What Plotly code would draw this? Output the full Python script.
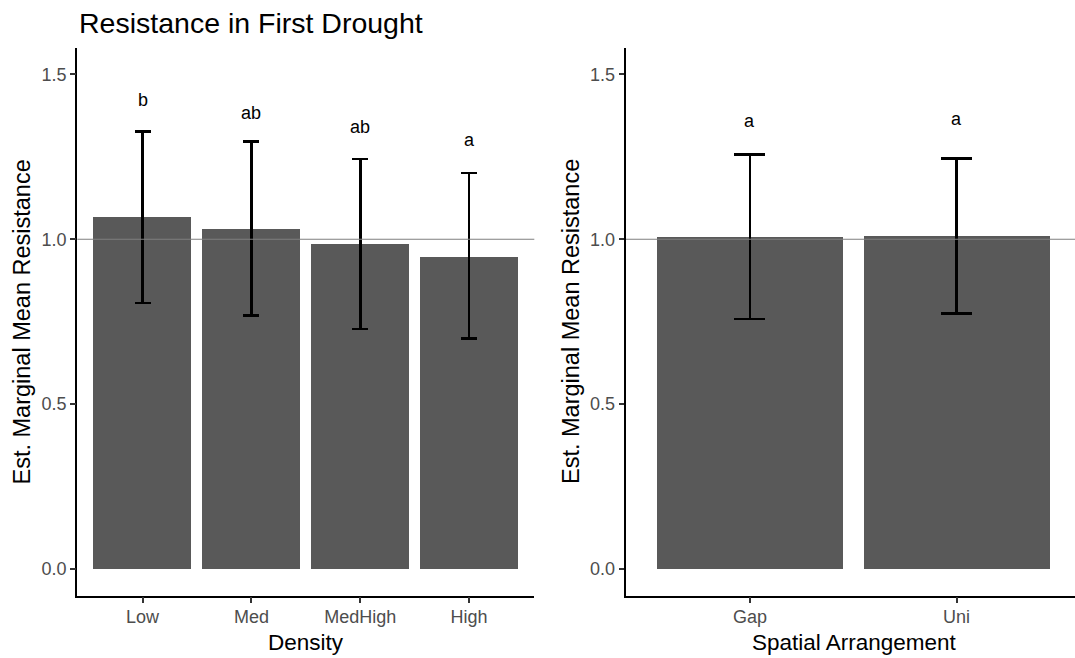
import plotly.graph_objects as go

# ---- data ----
density_levels = ["Low", "Med", "MedHigh", "High"]
density_emmean = [1.067, 1.029, 0.985, 0.946]
density_lower = [0.807, 0.769, 0.728, 0.699]
density_upper = [1.326, 1.297, 1.243, 1.201]
density_letters = ["b", "ab", "ab", "a"]
density_letter_y = [1.422, 1.384, 1.341, 1.301]

spatial_levels = ["Gap", "Uni"]
spatial_emmean = [1.005, 1.010]
spatial_lower = [0.758, 0.774]
spatial_upper = [1.258, 1.244]
spatial_letters = ["a", "a"]
spatial_letter_y = [1.359, 1.364]

y_ticks = [0.0, 0.5, 1.0, 1.5]
y_tick_text = ["0.0", "0.5", "1.0", "1.5"]

W, H = 1075, 658
FONT = "Liberation Sans, Arial, sans-serif"
BAR_COLOR = "#595959"

def px_x(px):
    return px / W

def px_y(px):
    return 1 - px / H

fig = go.Figure()

def add_panel(levels, mean, lower, upper, xaxis, yaxis, cap):
    fig.add_trace(go.Bar(
        x=levels, y=mean, width=0.9,
        marker=dict(color=BAR_COLOR, line=dict(width=0)),
        error_y=dict(type="data", symmetric=False,
                     array=[u - m for u, m in zip(upper, mean)],
                     arrayminus=[m - l for m, l in zip(mean, lower)],
                     color="black", thickness=2.7, width=cap),
        xaxis=xaxis, yaxis=yaxis, showlegend=False, hoverinfo="skip",
    ))

add_panel(density_levels, density_emmean, density_lower, density_upper, "x", "y", 8)
add_panel(spatial_levels, spatial_emmean, spatial_lower, spatial_upper, "x2", "y2", 15.5)

ydom = [px_y(595.7), px_y(48.3)]
yrange = [-0.081, 1.579]

axis_common = dict(
    showline=True, linecolor="black", linewidth=1.5,
    ticks="outside", ticklen=5.5, tickwidth=1.5, tickcolor="#333333",
    tickfont=dict(family=FONT, size=18, color="#4D4D4D"),
    showgrid=False, zeroline=False, fixedrange=True,
)

fig.update_layout(
    width=W, height=H, autosize=False,
    margin=dict(l=0, r=0, t=0, b=0),
    paper_bgcolor="white", plot_bgcolor="white",
    bargap=0,
    xaxis=dict(domain=[px_x(77.3), px_x(534.3)], range=[-0.6, 3.6],
               type="category", categoryorder="array", categoryarray=density_levels,
               anchor="y", ticklabelstandoff=-2, **axis_common),
    yaxis=dict(domain=ydom, range=yrange, tickvals=y_ticks, ticktext=y_tick_text,
               anchor="x", **axis_common),
    xaxis2=dict(domain=[px_x(626), 1.0], range=[-0.6, 1.573],
                type="category", categoryorder="array", categoryarray=spatial_levels,
                anchor="y2", ticklabelstandoff=-2, **axis_common),
    yaxis2=dict(domain=ydom, range=yrange, tickvals=y_ticks, ticktext=y_tick_text,
                anchor="x2", **axis_common),
)

# reference line at 1
for xr, yr in (("x", "y"), ("x2", "y2")):
    fig.add_shape(type="line", xref=f"{xr} domain", yref=yr, x0=0, x1=1, y0=1, y1=1,
                  line=dict(color="#7F7F7F", width=1.2), layer="above")

annotations = []
for lvl, ly, lt in zip(density_levels, density_letter_y, density_letters):
    annotations.append(dict(x=lvl, y=ly, xref="x", yref="y", text=lt, showarrow=False,
                            font=dict(family=FONT, size=18, color="black"),
                            xanchor="center", yanchor="middle"))
for lvl, ly, lt in zip(spatial_levels, spatial_letter_y, spatial_letters):
    annotations.append(dict(x=lvl, y=ly, xref="x2", yref="y2", text=lt, showarrow=False,
                            font=dict(family=FONT, size=18, color="black"),
                            xanchor="center", yanchor="middle"))

# titles
annotations.append(dict(x=px_x(77), y=px_y(23), xref="paper", yref="paper",
                        text="Resistance in First Drought", showarrow=False,
                        xanchor="left", yanchor="middle",
                        font=dict(family=FONT, size=28.5, color="black")))
annotations.append(dict(x=px_x(305.8), y=px_y(642), xref="paper", yref="paper",
                        text="Density", showarrow=False, xanchor="center", yanchor="middle",
                        font=dict(family=FONT, size=22.5, color="black")))
annotations.append(dict(x=px_x(854.5), y=px_y(642), xref="paper", yref="paper",
                        text="Spatial Arrangement", showarrow=False, xanchor="center", yanchor="middle",
                        font=dict(family=FONT, size=22.5, color="black")))
for xc in (21.5, 571):
    annotations.append(dict(x=px_x(xc), y=px_y(322), xref="paper", yref="paper",
                            text="Est. Marginal Mean Resistance", showarrow=False,
                            xanchor="center", yanchor="middle", textangle=-90,
                            font=dict(family=FONT, size=23.5, color="black")))

fig.update_layout(annotations=annotations)

fig.write_html("out.html",
               config={"displayModeBar": False},
               post_script="document.body.style.margin='0px';document.body.style.overflow='hidden';")
